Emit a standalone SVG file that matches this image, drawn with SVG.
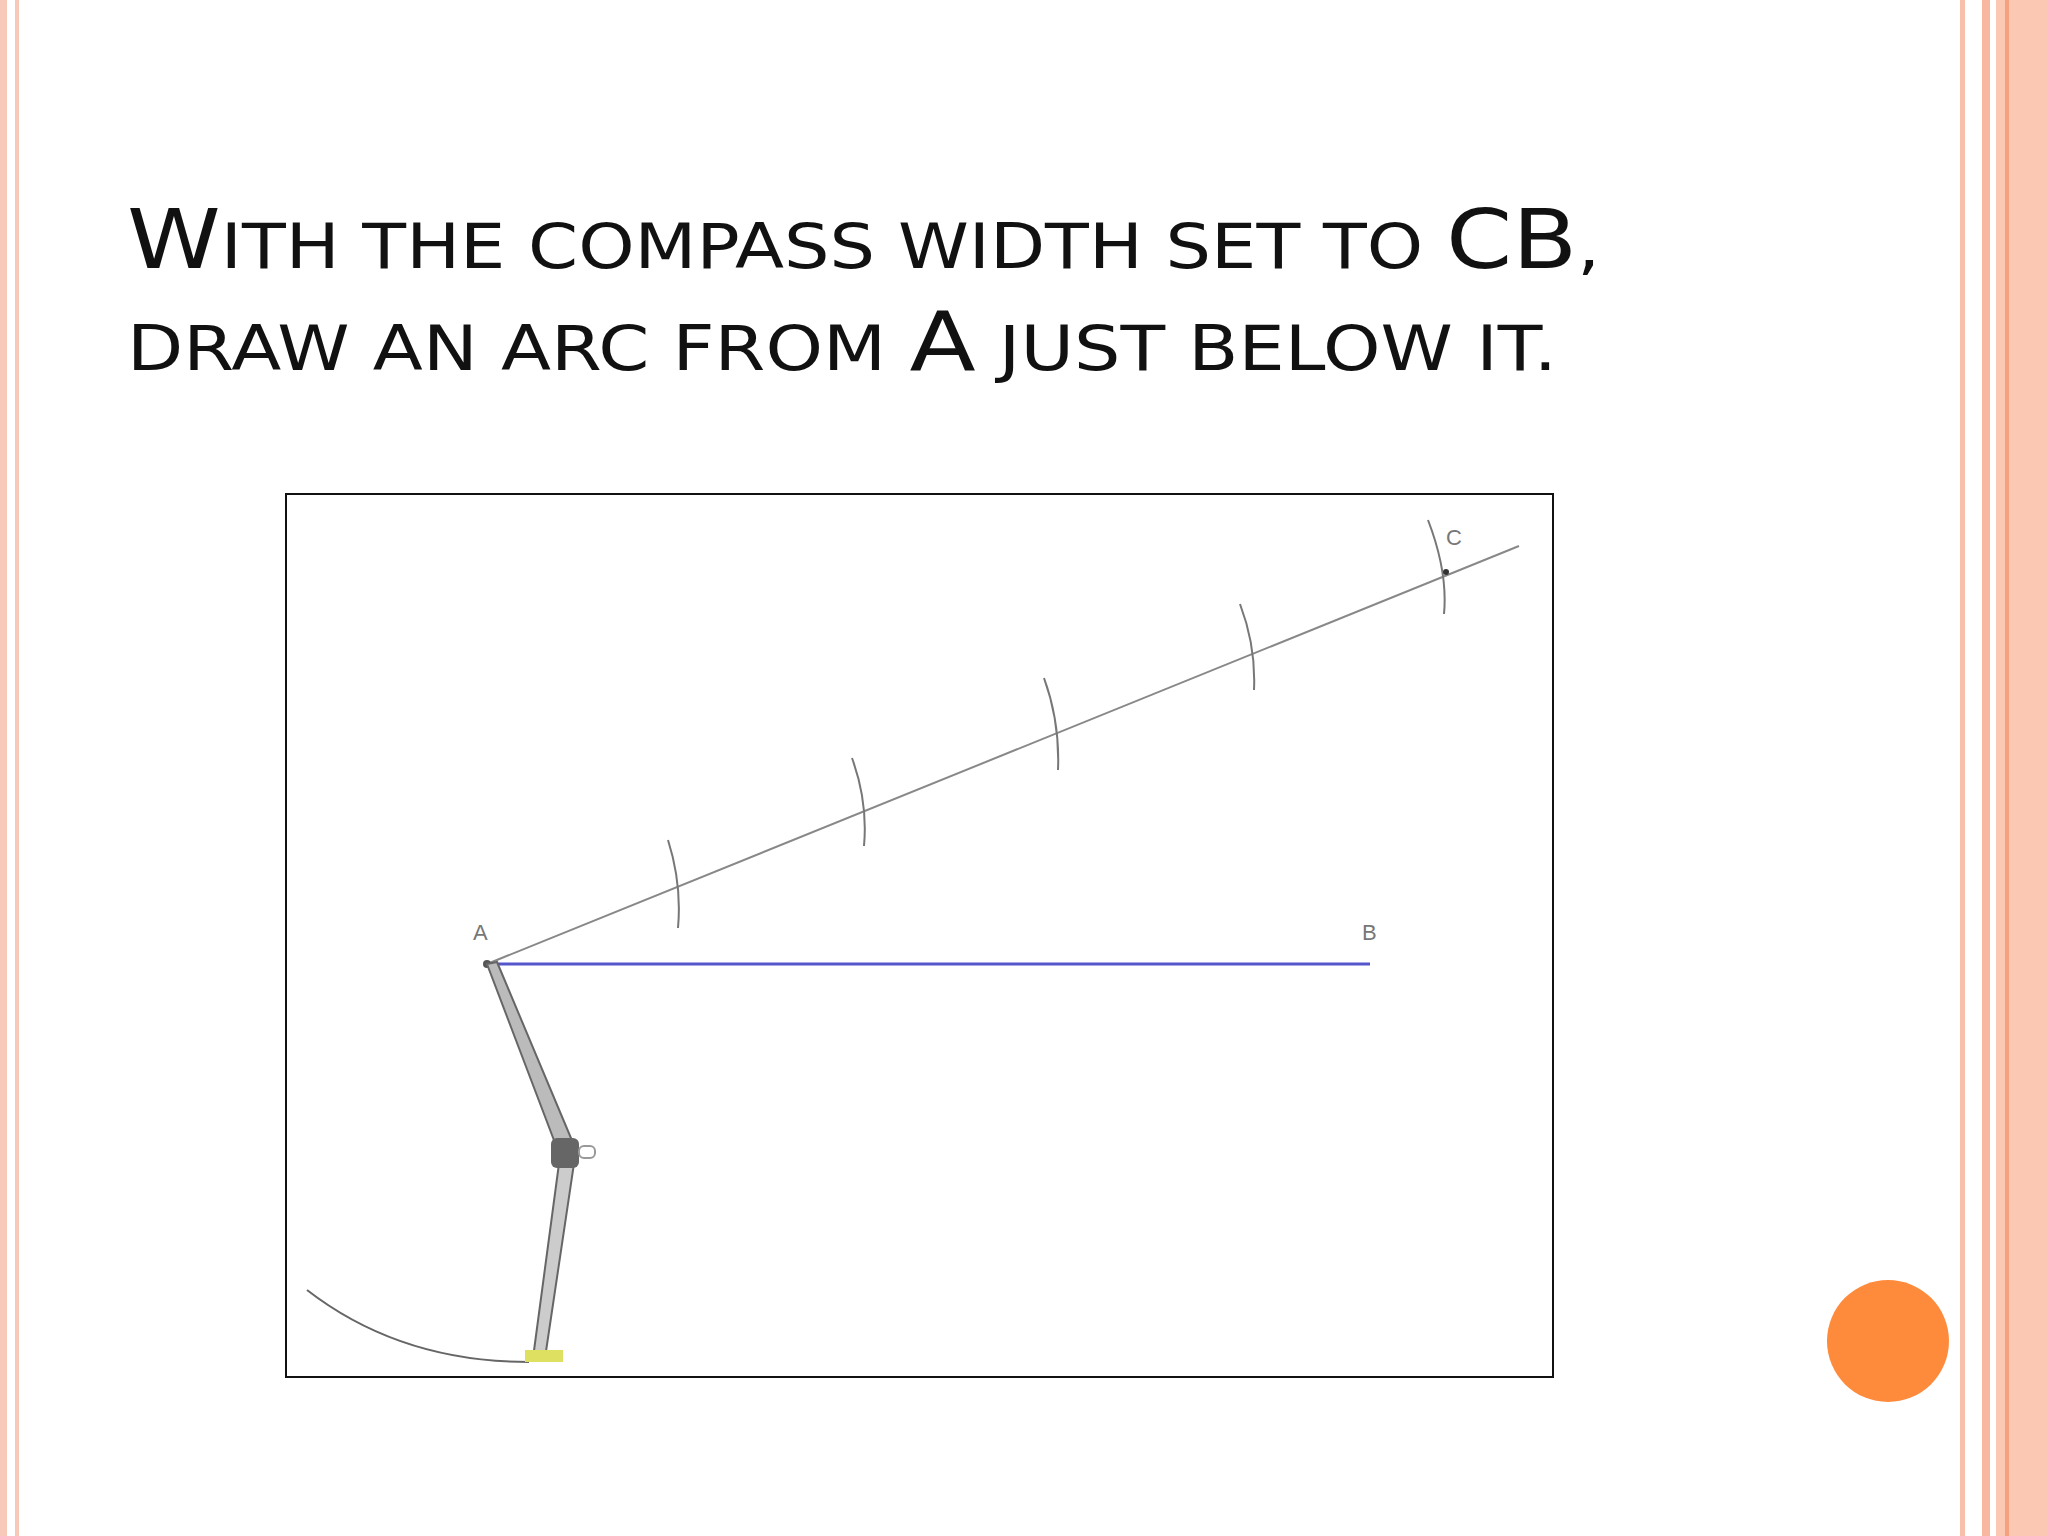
<svg xmlns="http://www.w3.org/2000/svg" width="2048" height="1536" viewBox="0 0 2048 1536">
<style>
.t{font-family:"DejaVu Sans","Liberation Sans",sans-serif;fill:#111;font-size:62px}
.b{font-size:82px}
.lbl{font-family:"Liberation Sans",sans-serif;font-size:22px;fill:#777}
.tick{stroke:#777;stroke-width:2;fill:none}
</style>
<rect width="2048" height="1536" fill="#fff"/>
<rect x="0" y="0" width="7" height="1536" fill="#f8c8b8"/>
<rect x="15" y="0" width="4" height="1536" fill="#f8c8b8"/>
<rect x="1960" y="0" width="5" height="1536" fill="#f8c0a8"/>
<rect x="1982" y="0" width="8" height="1536" fill="#f8b8a0"/>
<rect x="1996" y="0" width="52" height="1536" fill="#fbc9b3"/>
<rect x="2005" y="0" width="4" height="1536" fill="#f6a080"/>
<g id="title">
<text class="t" x="127" y="268" textLength="1473" lengthAdjust="spacingAndGlyphs"><tspan class="b">W</tspan>ITH THE COMPASS WIDTH SET TO <tspan class="b">CB</tspan>,</text>
<text class="t" x="127" y="370" textLength="1430" lengthAdjust="spacingAndGlyphs">DRAW AN ARC FROM <tspan class="b">A</tspan> JUST BELOW IT.</text>
</g>
<g id="figure">
<rect x="286" y="494" width="1267" height="883" fill="#fff" stroke="#111" stroke-width="2"/>
<line x1="487" y1="964" x2="1519" y2="546" stroke="#888" stroke-width="2"/>
<line x1="487" y1="964" x2="1370" y2="964" stroke="#5555cc" stroke-width="3"/>
<path class="tick" d="M668 840 Q682 884 678 928 M852 758 Q868 802 864 846 M1044 678 Q1060 722 1058 770 M1240 604 Q1256 646 1254 690 M1428 520 Q1448 572 1444 614"/>
<text class="lbl" x="473" y="940">A</text>
<text class="lbl" x="1362" y="940">B</text>
<text class="lbl" x="1446" y="545">C</text>
<circle cx="487" cy="964" r="4" fill="#555"/>
<circle cx="1446" cy="572" r="3" fill="#333"/>
<path d="M307 1290 Q400 1362 529 1362" stroke="#666" stroke-width="2" fill="none"/>
<polygon points="487,964 497,962 576,1150 560,1156" fill="#bbb" stroke="#666" stroke-width="2"/>
<polygon points="560,1156 576,1150 545,1358 533,1358" fill="#ccc" stroke="#666" stroke-width="2"/>
<rect x="551" y="1138" width="28" height="30" rx="6" fill="#666"/>
<rect x="579" y="1146" width="16" height="12" rx="5" fill="none" stroke="#999" stroke-width="2"/>
<rect x="525" y="1350" width="38" height="12" fill="#dde060"/>
</g>
<circle id="dot" cx="1888" cy="1341" r="61" fill="#fe8a3c"/>
</svg>
